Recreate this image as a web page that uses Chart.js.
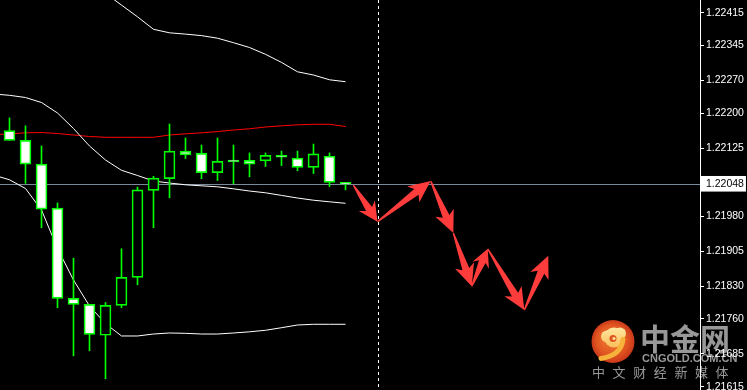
<!DOCTYPE html>
<html>
<head>
<meta charset="utf-8">
<script src="https://cdn.jsdelivr.net/npm/chart.js@4/dist/chart.umd.min.js"></script>
<style>
html,body{margin:0;padding:0;background:#000;overflow:hidden;}
#wrap{position:relative;width:747px;height:390px;}
</style>
</head>
<body>
<div id="wrap"><canvas id="c"></canvas></div>
<script>
// ---- data ----
const barIndex = [0,1,2,3,4,5,6,7,8,9,10,11,12,13,14,15,16,17,18,19,20,21];
const openPrices  = [1.22163,1.22142,1.22091,1.21997,1.21804,1.21791,1.21725,1.21789,1.21849,1.22035,1.22060,1.22119,1.22114,1.22073,1.22100,1.22099,1.22098,1.22110,1.22104,1.22084,1.22108,1.22052];
const highPrices  = [1.22190,1.22173,1.22130,1.22008,1.21890,1.21791,1.21795,1.21910,1.22042,1.22065,1.22177,1.22147,1.22132,1.22147,1.22132,1.22115,1.22115,1.22119,1.22119,1.22134,1.22115,1.22052];
const lowPrices   = [1.22142,1.22050,1.21955,1.21784,1.21681,1.21692,1.21632,1.21784,1.21833,1.21955,1.22019,1.22103,1.22060,1.22056,1.22049,1.22064,1.22086,1.22088,1.22077,1.22071,1.22043,1.22036];
const closePrices = [1.22142,1.22091,1.21995,1.21804,1.21791,1.21727,1.21789,1.21849,1.22036,1.22061,1.22119,1.22111,1.22073,1.22097,1.22096,1.22091,1.22110,1.22106,1.22084,1.22113,1.22052,1.22048];

const bandIndex = [-1,0,1,2,3,4,5,6,7,8,9,10,11,12,13,14,15,16,17,18,19,20,21];
const upperBand = [null,null,null,null,null,null,1.224807,1.224563,1.224313,1.224062,1.223795,1.223720,1.223692,1.223660,1.223605,1.223508,1.223406,1.223260,1.223087,1.222886,1.222817,1.222715,1.222674];
const midBand   = [1.222411,1.222383,1.222336,1.222229,1.222005,1.221673,1.221299,1.220999,1.220779,1.220668,1.220550,1.220507,1.220469,1.220447,1.220426,1.220383,1.220336,1.220298,1.220242,1.220186,1.220139,1.220105,1.220073];
const lowerBand = [1.220678,1.220576,1.220390,1.219930,1.219106,1.218432,1.217876,1.217500,1.217235,1.217235,1.217277,1.217299,1.217292,1.217277,1.217277,1.217299,1.217324,1.217357,1.217412,1.217470,1.217485,1.217485,1.217485];
const redMA     = [1.221545,1.221555,1.221581,1.221587,1.221566,1.221534,1.221502,1.221485,1.221485,1.221485,1.221485,1.221534,1.221560,1.221581,1.221607,1.221641,1.221667,1.221705,1.221731,1.221752,1.221763,1.221763,1.221716];

const arrowIndex = [21.49,23,26.325,27.74,28.89,29.89,32.175,33.675];
const arrowPrice = [1.22046,1.21968,1.22055,1.21944,1.21830,1.21910,1.21779,1.21895];

const tickLabels = ['1.22415','1.22345','1.22270','1.22200','1.22125','1.22048','1.21980','1.21905','1.21830','1.21760','1.21685','1.21615'];
const currentPrice = 1.22048;
const forecastStart = 23;

const yMin = 1.2160796, yMax = 1.2244217;
const xMin = -0.59375, xMax = 43.15625;

// ---- build datasets ----
const tickValues = tickLabels.map(Number);
const GREEN = '#00ff00';
const bodies = barIndex.map((x,i)=>({x:x, y:[openPrices[i], closePrices[i]]}));
const wicks  = barIndex.map((x,i)=>({x:x, y:[lowPrices[i], highPrices[i]]}));
const toPts = arr => bandIndex.map((x,i)=>({x:x, y:arr[i]}));

const bgPlugin = {
  id:'bg',
  beforeDraw(chart){
    const ctx = chart.ctx;
    ctx.save();
    ctx.fillStyle = '#000';
    ctx.fillRect(0,0,chart.width,chart.height);
    // watermark logo
    const cx = 613, cy = 341.5, r = 21.5;
    let g = ctx.createRadialGradient(cx-4,cy-4,2,cx,cy,r);
    g.addColorStop(0,'#f07a35'); g.addColorStop(0.7,'#e0541f'); g.addColorStop(1,'#c9381a');
    ctx.fillStyle = g;
    ctx.beginPath(); ctx.arc(cx,cy,r,0,Math.PI*2); ctx.fill();
    let g2 = ctx.createLinearGradient(cx,cy-14,cx,cy+18);
    g2.addColorStop(0,'#ffe7a0'); g2.addColorStop(1,'#f7a632');
    ctx.fillStyle = g2;
    ctx.beginPath(); ctx.arc(cx+1,cy-4,10,0,Math.PI*2); ctx.fill();
    ctx.beginPath(); ctx.arc(cx-6,cy-5,6,0,Math.PI*2); ctx.fill();
    ctx.beginPath(); ctx.arc(cx+7,cy-8,6,0,Math.PI*2); ctx.fill();
    ctx.strokeStyle = '#f7b23c'; ctx.lineWidth = 5; ctx.lineCap='round';
    ctx.beginPath(); ctx.moveTo(cx+10,cy-2); ctx.quadraticCurveTo(cx+8,cy+14,cx-12,cy+17); ctx.stroke();
    ctx.fillStyle = '#e0541f';
    ctx.beginPath(); ctx.arc(cx,cy-3,3.5,0,Math.PI*2); ctx.fill();
    ctx.fillStyle = '#fbe3a0';
    ctx.beginPath(); ctx.arc(cx+1,cy-3,1.5,0,Math.PI*2); ctx.fill();
    ctx.fillStyle = 'rgba(165,165,165,0.92)';
    ctx.textBaseline = 'alphabetic';
    ctx.font = 'bold 30px "Noto Sans CJK SC"';
    ctx.fillText('中金网', 640, 350);
    ctx.font = 'bold 11px "Liberation Sans"';
    ctx.fillText('CNGOLD.COM.CN', 642, 362);
    ctx.font = '13px "Noto Sans CJK SC"';
    const sub = '中文财经新媒体';
    for (let k=0;k<sub.length;k++) ctx.fillText(sub[k], 592 + k*20.6, 377);
    ctx.restore();
  },
  beforeDatasetsDraw(chart){
    const ctx = chart.ctx, a = chart.chartArea;
    const xs = chart.scales.x, ys = chart.scales.y;
    ctx.save();
    const py = Math.round(ys.getPixelForValue(currentPrice)) + 0.5;
    ctx.strokeStyle = '#7a8a9a'; ctx.lineWidth = 1;
    ctx.beginPath(); ctx.moveTo(a.left,py); ctx.lineTo(a.right,py); ctx.stroke();
    const px = Math.round(xs.getPixelForValue(forecastStart)) + 0.5;
    ctx.strokeStyle = '#ffffff'; ctx.setLineDash([3,3]);
    ctx.beginPath(); ctx.moveTo(px,a.top); ctx.lineTo(px,a.bottom); ctx.stroke();
    ctx.restore();
  },
  afterDatasetsDraw(chart){
    const ctx = chart.ctx;
    const xs = chart.scales.x, ys = chart.scales.y;
    ctx.save();
    ctx.fillStyle = '#ff3c3c';
    for (let i=0;i<arrowIndex.length-1;i++){
      const x0 = xs.getPixelForValue(arrowIndex[i]), y0 = ys.getPixelForValue(arrowPrice[i]);
      const x1 = xs.getPixelForValue(arrowIndex[i+1]), y1 = ys.getPixelForValue(arrowPrice[i+1]);
      const dx = x1-x0, dy = y1-y0, L = Math.hypot(dx,dy);
      const ux = dx/L, uy = dy/L, nx = -uy, ny = ux;
      const h = Math.min(22, 0.44*L), hw = Math.min(10, 0.22*L), sw = 3.6, tw = 0.7;
      const bx = x1 - ux*h, by = y1 - uy*h;
      const jx = bx + ux*4, jy = by + uy*4;
      ctx.beginPath();
      ctx.moveTo(x0+nx*tw, y0+ny*tw);
      ctx.lineTo(jx+nx*sw, jy+ny*sw);
      ctx.lineTo(bx+nx*hw, by+ny*hw);
      ctx.lineTo(x1, y1);
      ctx.lineTo(bx-nx*hw, by-ny*hw);
      ctx.lineTo(jx-nx*sw, jy-ny*sw);
      ctx.lineTo(x0-nx*tw, y0-ny*tw);
      ctx.closePath();
      ctx.fill();
    }
    ctx.restore();
  }
};

const lineDs = (label, arr, color) => ({
  type:'line', label, data: toPts(arr), borderColor: color, borderWidth: 1,
  pointRadius: 0, tension: 0, fill: false, spanGaps: false, order: 2
});

new Chart(document.getElementById('c'), {
  data: {
    datasets: [
      lineDs('upper', upperBand, '#ffffff'),
      lineDs('middle', midBand, '#ffffff'),
      lineDs('lower', lowerBand, '#ffffff'),
      lineDs('ma', redMA, '#ff0000'),
      { type:'bar', label:'wick', data: wicks, backgroundColor: GREEN, borderWidth: 0,
        barThickness: 1, grouped: false, order: 1 },
      { type:'bar', label:'body', data: bodies,
        backgroundColor: barIndex.map((x,i)=> closePrices[i] < openPrices[i] ? '#ffffff' : '#000000'),
        borderColor: GREEN, borderWidth: 1.7, borderSkipped: false,
        barThickness: 11, grouped: false, order: 0 }
    ]
  },
  options: {
    responsive: true, maintainAspectRatio: false, animation: false,
    devicePixelRatio: 1,
    layout: { padding: 0 },
    plugins: { legend: { display: false }, tooltip: { enabled: false } },
    events: [],
    scales: {
      x: { type: 'linear', min: xMin, max: xMax, display: false, offset: false },
      y: {
        type: 'linear', position: 'right', min: yMin, max: yMax,
        afterBuildTicks: s => { s.ticks = tickValues.map(v => ({ value: v })); },
        afterFit: s => { s.width = 47; s.paddingTop = 0; s.paddingBottom = 0; },
        border: { display: true, color: '#ffffff', width: 1 },
        grid: { drawOnChartArea: false, tickLength: 4, color: '#ffffff', tickWidth: 1 },
        ticks: {
          autoSkip: false, padding: 2,
          font: { family: 'Liberation Sans', size: 10.5 },
          color: c => (c.tick && c.tick.value === currentPrice) ? '#000000' : '#ffffff',
          showLabelBackdrop: c => !!(c.tick && c.tick.value === currentPrice),
          backdropColor: '#ffffff',
          backdropPadding: { top: 2, bottom: 1, left: 5, right: 2 },
          callback: v => Number(v).toFixed(5)
        }
      }
    }
  },
  plugins: [bgPlugin]
});
</script>
</body>
</html>
